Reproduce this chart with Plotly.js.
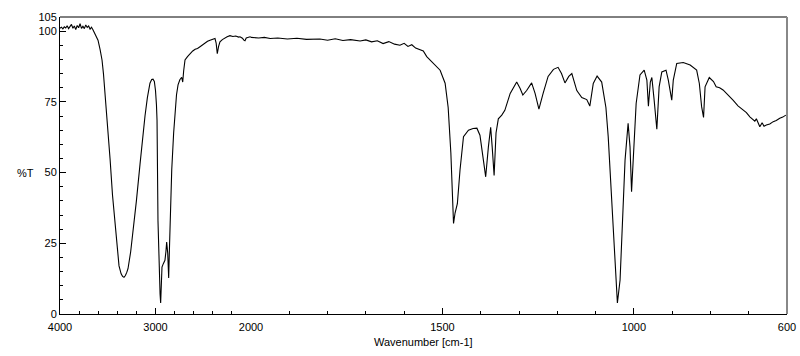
<!DOCTYPE html>
<html>
<head>
<meta charset="utf-8">
<script src="https://cdn.plot.ly/plotly-3.0.1.min.js"></script>
<style>html,body{margin:0;padding:0;background:#fff;}#chart{width:800px;height:356px;}</style>
</head>
<body>
<div id="chart"></div>
<script>
// Wavenumber (cm-1) and transmittance (%T)
var wavenumber = [
 4000,3985,3970,3955,3940,3925,3910,3895,3880,3865,3850,3835,3820,3805,3790,3775,3760,3745,3730,3715,3700,3685,3670,3655,3640,3625,3602,3580,3560,3545,3529,3508,3476,3450,3424,3400,3382,3360,3345,3330,3315,3300,3288,3260,3236,3200,3162,3135,3110,3085,3058,3040,3026,3012,3000,2990,2984,2974,2963,2952,2946,2940,2932,2918,2901,2891,2883,2872,2862,2855,2848,2830,2810,2796,2780,2764,2745,2726,2715,2705,2691,2665,2639,2610,2585,2560,2534,2505,2480,2455,2429,2400,2377,2365,2353,2340,2325,2300,2275,2250,2220,2190,2160,2130,2115,2090,2075,2063,2050,2030,2010,2000,
 1980,1965,1950,1930,1905,1880,1855,1820,1800,1780,1760,1740,1715,1700,1685,1670,1655,1640,1625,1611,1600,1590,1580,1570,1559,1550,1541,1530,1520,1506,1493,1485,1478,1475,1471,1467,1461,1454,1445,1432,1420,1410,1402,1393,1387,1380,1374,1370,1365,1360,1354,1345,1337,1323,1306,1297,1290,1280,1267,1258,1248,1237,1224,1210,1198,1189,1180,1170,1162,1149,1136,1123,1115,1106,1096,1084,1073,1067,1058,1049,1043,1036,1030,1023,1015,1010,1006,1001,994,984,973,966,962,957,953,947,940,934,927,916,910,901,897,888,871,853,836,829,823,818,814,803,792,785,776,767,755,741,728,715,706,697,690,684,680,675,671,665,660,654,645,636,628,619,611,603
];
var transmittance = [
 101.0,101.4,100.8,101.5,101.1,101.9,100.9,101.6,102.4,101.0,101.8,100.6,102.0,101.2,102.6,101.0,101.7,100.9,102.2,101.3,101.8,100.7,101.4,100.5,99.6,98.6,96.8,93.5,89.8,85.0,78.0,71.0,55.0,42.0,32.0,22.5,17.0,14.2,13.3,13.0,13.6,14.8,16.0,22.0,28.6,40.0,53.0,63.0,70.0,76.5,81.6,82.9,83.0,82.2,79.0,74.0,68.5,33.0,15.0,7.0,3.9,8.0,16.6,17.8,19.0,22.0,25.4,21.5,12.7,22.0,30.8,51.0,64.0,72.0,77.5,81.0,82.8,83.7,82.0,86.0,89.8,91.0,92.0,93.0,93.6,93.9,94.5,95.3,95.8,96.4,96.8,97.2,97.4,95.8,92.0,94.5,96.2,97.0,97.6,98.0,98.4,98.1,98.3,97.9,98.0,97.5,96.8,96.6,97.6,97.9,98.0,97.8,
 97.6,97.8,97.4,97.6,97.2,97.5,97.1,97.2,96.8,97.3,96.7,97.0,96.5,96.9,96.2,96.6,95.6,96.3,95.4,95.0,95.7,94.6,95.2,94.0,93.5,93.0,91.0,89.5,88.0,86.2,81.6,73.0,57.0,45.0,32.0,35.7,39.0,51.0,62.7,65.0,65.6,65.7,63.2,54.4,48.5,59.0,66.0,59.0,49.0,64.0,69.0,70.3,72.0,78.0,82.0,79.7,77.4,79.0,81.7,78.0,72.4,78.0,84.0,86.5,87.2,85.0,81.7,84.0,85.0,79.0,76.5,75.8,73.5,81.5,84.1,82.0,73.0,62.7,39.0,15.5,3.9,12.0,33.0,54.4,67.4,59.0,43.2,54.4,74.4,84.5,86.2,82.7,73.5,82.0,83.6,75.6,65.3,80.3,85.6,86.2,82.7,75.6,82.7,88.6,88.9,88.0,86.2,81.5,73.3,69.5,80.3,83.6,82.2,80.3,80.0,79.2,77.6,75.6,73.6,72.0,71.2,69.7,69.0,68.2,69.0,67.4,66.2,67.6,66.4,66.8,67.2,68.0,68.4,69.2,69.6,70.3
];

var xTicks1 = [4000, 3000, 2000];
var xTicks2 = [1500, 1000, 600];
var yTicks = [0, 25, 50, 75, 100, 105];

var x1 = [], y1 = [], x2 = [], y2 = [];
for (var i = 0; i < wavenumber.length; i++) {
  if (wavenumber[i] >= 2000) { x1.push(wavenumber[i]); y1.push(transmittance[i]); }
  if (wavenumber[i] <= 2000) { x2.push(wavenumber[i]); y2.push(transmittance[i]); }
}

var lineStyle = {color: '#000', width: 1.1};
var traces = [
  {x: x1, y: y1, xaxis: 'x', yaxis: 'y', type: 'scatter', mode: 'lines', line: lineStyle, hoverinfo: 'skip'},
  {x: x2, y: y2, xaxis: 'x2', yaxis: 'y', type: 'scatter', mode: 'lines', line: lineStyle, hoverinfo: 'skip'}
];

var tickFont = {family: 'Liberation Sans, Arial, sans-serif', size: 11, color: '#000'};
var split = 191 / 727;
var layout = {
  width: 800, height: 356,
  margin: {l: 60, r: 13, t: 17, b: 42},
  paper_bgcolor: '#fff', plot_bgcolor: '#fff',
  showlegend: false,
  xaxis: {
    domain: [0, split], range: [4000, 2000], anchor: 'y',
    showgrid: false, zeroline: false, showline: true, linecolor: '#000', linewidth: 1,
    ticks: 'inside', ticklen: 6, tickcolor: '#000',
    tickmode: 'array', tickvals: xTicks1, ticktext: xTicks1.map(String),
    tickfont: tickFont, ticklabelstandoff: 3,
    minor: {ticks: 'inside', ticklen: 3, dtick: 200, tick0: 0, tickcolor: '#000', showgrid: false}
  },
  xaxis2: {
    domain: [split, 1], range: [2000, 600], anchor: 'y',
    showgrid: false, zeroline: false, showline: true, linecolor: '#000', linewidth: 1,
    ticks: 'inside', ticklen: 6, tickcolor: '#000',
    tickmode: 'array', tickvals: xTicks2, ticktext: xTicks2.map(String),
    tickfont: tickFont, ticklabelstandoff: 3,
    minor: {ticks: 'inside', ticklen: 3, dtick: 100, tick0: 0, tickcolor: '#000', showgrid: false}
  },
  yaxis: {
    range: [0, 105], anchor: 'x',
    showgrid: false, zeroline: false, showline: true, linecolor: '#000', linewidth: 1,
    ticks: 'inside', ticklen: 6, tickcolor: '#000',
    tickmode: 'array', tickvals: yTicks, ticktext: yTicks.map(String),
    tickfont: tickFont, ticklabelstandoff: 0,
    minor: {ticks: 'inside', ticklen: 3, dtick: 5, tick0: 0, tickcolor: '#000', showgrid: false}
  },
  shapes: [
    {type: 'line', xref: 'paper', yref: 'paper', x0: 0, x1: 1, y0: 1, y1: 1, line: {color: '#000', width: 1}},
    {type: 'line', xref: 'paper', yref: 'paper', x0: 1, x1: 1, y0: 0, y1: 1, line: {color: '#888', width: 2}}
  ],
  annotations: [
    {text: '%T', xref: 'paper', yref: 'y', x: -0.048, y: 50, xanchor: 'center', yanchor: 'middle', showarrow: false, font: tickFont},
    {text: 'Wavenumber [cm-1]', xref: 'paper', yref: 'paper', x: 0.5, y: -0.095, xanchor: 'center', yanchor: 'middle', showarrow: false, font: tickFont}
  ]
};

Plotly.newPlot('chart', traces, layout, {staticPlot: true, displayModeBar: false});
</script>
</body>
</html>
